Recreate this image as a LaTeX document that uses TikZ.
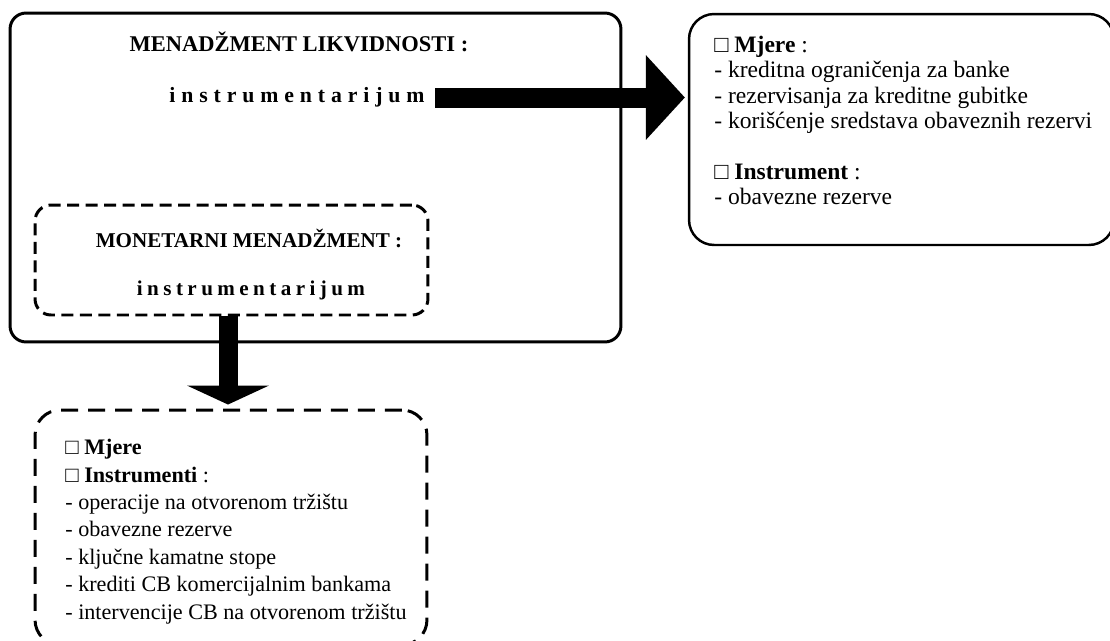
\documentclass[tikz,border=0pt]{standalone}
\usepackage{fontspec}
\setmainfont{Liberation Serif}
\usetikzlibrary{arrows.meta}
\begin{document}
\begin{tikzpicture}[x=0.02cm, y=-0.02cm,
  box/.style={draw, line width=1.7pt, rounded corners=0.32cm, inner sep=0pt},
  dbox/.style={box, dash pattern=on 0.24cm off 0.13cm},
  ddbox/.style={box, rounded corners=0.5cm, dash pattern=on 0.34cm off 0.2cm},
  rbox/.style={box, line width=1.4pt, rounded corners=0.5cm},
  title/.style={font=\fontsize{12.8pt}{15pt}\selectfont\bfseries},
  spaced/.style={font=\fontsize{12.4pt}{14pt}\selectfont\bfseries\addfontfeatures{LetterSpace=27}},
  list/.style={anchor=north west, align=left, inner sep=0pt},
  rarrow/.style={line width=0.4cm, -{Triangle[width=1.7cm,length=0.78cm,line width=0pt]}},
  darrow/.style={line width=0.38cm, -{Triangle[width=1.64cm,length=0.38cm,line width=0pt]}}]
\useasboundingbox (0,0) rectangle (1110,640);

\node[box, minimum width=12.22cm, minimum height=6.58cm] (liq) at (315.5,177.5) {};
\node[title] (liqtitle) at (299,42) {MENADŽMENT LIKVIDNOSTI :};
\node[spaced] (liqinstr) at (297,97) {instrumentarijum};

\node[dbox, minimum width=7.86cm, minimum height=2.2cm] (mon) at (231.5,260) {};
\node[title, font=\fontsize{12pt}{14pt}\selectfont\bfseries] (montitle) at (249,238) {MONETARNI MENADŽMENT :};
\node[spaced, font=\fontsize{12pt}{14pt}\selectfont\bfseries\addfontfeatures{LetterSpace=21}] (moninstr) at (251,290) {instrumentarijum};

\node[rbox, minimum width=8.5cm, minimum height=4.62cm] (mjere) at (901.5,129.5) {};
\node[list, font=\fontsize{13.4pt}{14.4pt}\selectfont] (mjeretxt) at (714,36) {%
{\bfseries □ Mjere} :\\
- kreditna ograničenja za banke\\
- rezervisanja za kreditne gubitke\\
- korišćenje sredstava obaveznih rezervi\\[14.4pt]
{\bfseries □ Instrument} :\\
- obavezne rezerve};

\node[ddbox, minimum width=7.84cm, minimum height=4.7cm] (monlist) at (231,527.5) {};
\node[list, font=\fontsize{12.6pt}{15.6pt}\selectfont] (monlisttxt) at (65,439) {%
{\bfseries □ Mjere}\\
{\bfseries □ Instrumenti} :\\
- operacije na otvorenom tržištu\\
- obavezne rezerve\\
- ključne kamatne stope\\
- krediti CB komercijalnim bankama\\
- intervencije CB na otvorenom tržištu};

\coordinate (rs) at (435,97.5);
\draw[rarrow, shorten >=0.06cm] (rs) -- (rs -| mjere.west);
\draw[darrow, shorten >=0.08cm] ([xshift=-0.07cm]mon.south) -- ([xshift=-0.07cm]mon.south |- monlist.north);
\end{tikzpicture}
\end{document}
